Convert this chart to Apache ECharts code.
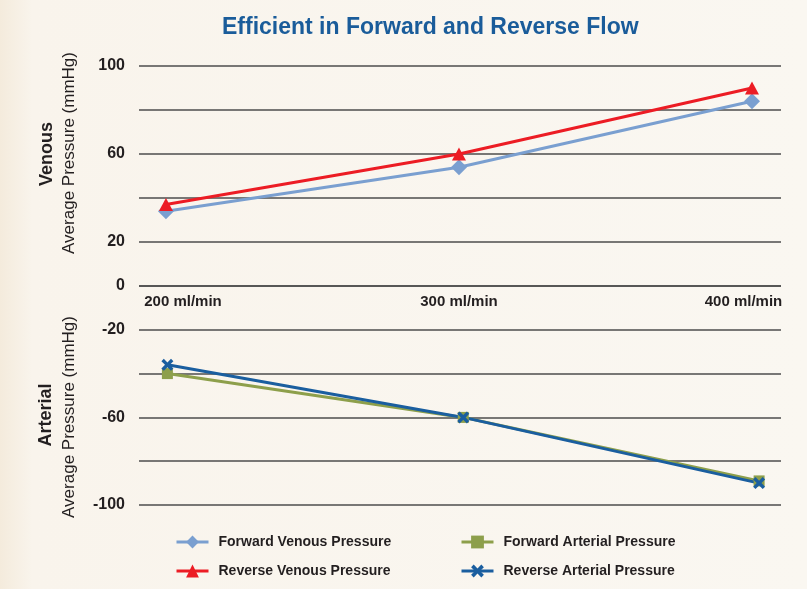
<!doctype html>
<html lang="en">
<head>
    <meta charset="UTF-8">
    <title>Efficient in Forward and Reverse Flow</title>
    <script src="https://cdn.jsdelivr.net/npm/echarts@6/dist/echarts.min.js"></script>
    <style>
        html, body { margin: 0; padding: 0; }
        #chart { width: 807px; height: 589px; }
    </style>
</head>
<body>
<div id="chart"></div>

<script type="text/javascript">
    // data
    var flowRates = [200, 300, 400];
    var flowLabels = ['200 ml/min', '300 ml/min', '400 ml/min'];
    var forwardVenous = [34, 54, 84];
    var reverseVenous = [37, 60, 90];
    var forwardArterial = [-40, -60, -89];
    var reverseArterial = [-36, -60, -90];
    var venousTicks = [100, 60, 20, 0];
    var arterialTicks = [-20, -60, -100];

    var FONT = '"Liberation Sans", Arial, Helvetica, sans-serif';
    var gridColor = '#4c4c4c';
    var textColor = '#231f20';
    var crossPath = 'path://M2,0 L5,3 L8,0 L10,2 L7,5 L10,8 L8,10 L5,7 L2,10 L0,8 L3,5 L0,2 Z';

    function pairs(vals) {
        var out = [];
        for (var i = 0; i < flowRates.length; i++) {
            out.push([flowRates[i], vals[i]]);
        }
        return out;
    }

    var legendText = {color: textColor, fontFamily: FONT, fontWeight: 'bold', fontSize: 14, padding: [0, 0, 0, 5]};

    var myChart = echarts.init(document.getElementById('chart'));

    myChart.setOption({
        backgroundColor: {
            type: 'linear', x: 0, y: 0, x2: 1, y2: 0,
            colorStops: [
                {offset: 0, color: '#f4ebdc'},
                {offset: 0.04, color: '#f9f4ec'},
                {offset: 1, color: '#faf7f1'}
            ]
        },
        animation: false,
        title: {
            text: 'Efficient in Forward and Reverse Flow',
            left: 222,
            top: 16,
            padding: 0,
            textStyle: {
                color: '#1a5c9a',
                fontFamily: FONT,
                fontWeight: 'bold',
                fontSize: 23
            }
        },
        legend: [
            {
                orient: 'vertical',
                left: 175,
                top: 535,
                padding: 0,
                itemWidth: 32,
                itemHeight: 16,
                itemGap: 15,
                lineStyle: {width: 3},
                data: ['Forward Venous Pressure', 'Reverse Venous Pressure'],
                textStyle: legendText
            },
            {
                orient: 'vertical',
                left: 460,
                top: 535,
                padding: 0,
                itemWidth: 32,
                itemHeight: 16,
                itemGap: 15,
                lineStyle: {width: 3},
                data: ['Forward Arterial Pressure', 'Reverse Arterial Pressure'],
                textStyle: legendText
            }
        ],
        graphic: [
            {type: 'text', x: 47, y: 154, rotation: Math.PI / 2,
                style: {text: 'Venous', align: 'center', verticalAlign: 'middle', fill: textColor,
                    font: 'bold 18px ' + FONT}},
            {type: 'text', x: 69, y: 153, rotation: Math.PI / 2,
                style: {text: 'Average Pressure (mmHg)', align: 'center', verticalAlign: 'middle', fill: textColor,
                    font: '17px ' + FONT}},
            {type: 'text', x: 46, y: 415, rotation: Math.PI / 2,
                style: {text: 'Arterial', align: 'center', verticalAlign: 'middle', fill: textColor,
                    font: 'bold 18px ' + FONT}},
            {type: 'text', x: 69, y: 417, rotation: Math.PI / 2,
                style: {text: 'Average Pressure (mmHg)', align: 'center', verticalAlign: 'middle', fill: textColor,
                    font: '17px ' + FONT}}
        ],
        grid: [
            {left: 139, right: 26, top: 66, height: 220},
            {left: 139, right: 26, top: 286, height: 219}
        ],
        xAxis: [
            {
                type: 'value',
                gridIndex: 0,
                min: 190.8,
                max: 409.9,
                axisLine: {show: false},
                axisTick: {show: false},
                splitLine: {show: false},
                axisLabel: {
                    customValues: flowRates,
                    margin: 8,
                    formatter: function (v) {
                        var i = flowRates.indexOf(v);
                        if (i === 0) return '{first|' + flowLabels[i] + '}';
                        if (i === flowRates.length - 1) return '{last|' + flowLabels[i] + '}';
                        return '{mid|' + flowLabels[i] + '}';
                    },
                    rich: {
                        first: {color: textColor, fontFamily: FONT, fontWeight: 'bold', fontSize: 15, padding: [0, 0, 0, 34]},
                        mid: {color: textColor, fontFamily: FONT, fontWeight: 'bold', fontSize: 15},
                        last: {color: textColor, fontFamily: FONT, fontWeight: 'bold', fontSize: 15, padding: [0, 17, 0, 0]}
                    }
                }
            },
            {
                type: 'value',
                gridIndex: 1,
                min: 190.4,
                max: 407.4,
                show: false
            }
        ],
        yAxis: [
            {
                type: 'value',
                gridIndex: 0,
                min: 0,
                max: 100,
                interval: 20,
                axisLine: {show: false},
                axisTick: {show: false},
                splitLine: {lineStyle: {color: gridColor, width: 1.5}},
                axisLabel: {
                    customValues: venousTicks,
                    margin: 14,
                    color: textColor,
                    fontFamily: FONT,
                    fontWeight: 'bold',
                    fontSize: 16
                }
            },
            {
                type: 'value',
                gridIndex: 1,
                min: -100,
                max: 0,
                interval: 20,
                axisLine: {show: false},
                axisTick: {show: false},
                splitLine: {lineStyle: {color: gridColor, width: 1.5}},
                axisLabel: {
                    customValues: arterialTicks,
                    margin: 14,
                    color: textColor,
                    fontFamily: FONT,
                    fontWeight: 'bold',
                    fontSize: 16
                }
            }
        ],
        series: [
            {
                name: 'Forward Venous Pressure',
                type: 'line',
                xAxisIndex: 0, yAxisIndex: 0,
                data: pairs(forwardVenous),
                symbol: 'diamond',
                symbolSize: 16,
                lineStyle: {color: '#7a9fd0', width: 3},
                itemStyle: {color: '#7a9fd0'}
            },
            {
                name: 'Reverse Venous Pressure',
                type: 'line',
                xAxisIndex: 0, yAxisIndex: 0,
                data: pairs(reverseVenous),
                symbol: 'triangle',
                symbolSize: [14, 13],
                lineStyle: {color: '#ec1c24', width: 3},
                itemStyle: {color: '#ec1c24'}
            },
            {
                name: 'Forward Arterial Pressure',
                type: 'line',
                xAxisIndex: 1, yAxisIndex: 1,
                data: pairs(forwardArterial),
                symbol: 'rect',
                symbolSize: 11,
                lineStyle: {color: '#8d9f4b', width: 3},
                itemStyle: {color: '#8d9f4b'}
            },
            {
                name: 'Reverse Arterial Pressure',
                type: 'line',
                xAxisIndex: 1, yAxisIndex: 1,
                data: pairs(reverseArterial),
                symbol: crossPath,
                symbolSize: 12,
                lineStyle: {color: '#1a5e9f', width: 3},
                itemStyle: {color: '#1a5e9f'}
            }
        ]
    });

    window.onresize = function () {
        myChart.resize();
    };
</script>
</body>
</html>
